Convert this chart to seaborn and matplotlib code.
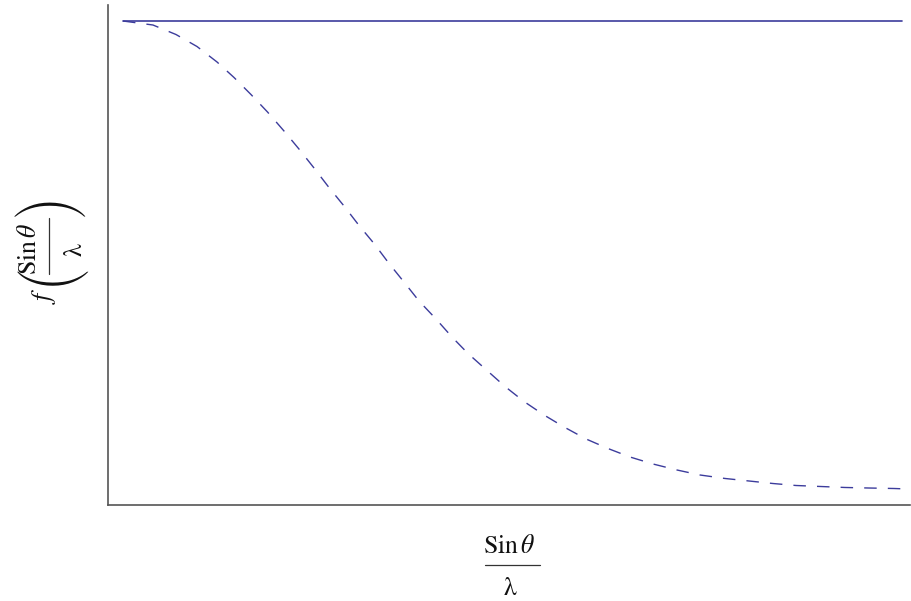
import numpy as np
import pandas as pd
import matplotlib
matplotlib.use("Agg")
import matplotlib.pyplot as plt
from matplotlib.lines import Line2D
import seaborn as sns

# Data (x = sin(theta)/lambda, relative units)
s_values = [0.0, 0.0385, 0.068, 0.095, 0.1207, 0.1425, 0.1643, 0.1855, 0.2067,
            0.2259, 0.2452, 0.2644, 0.2837, 0.3030, 0.3222, 0.3415, 0.3607,
            0.3800, 0.4018, 0.4223, 0.4429, 0.4673, 0.4904, 0.5148, 0.5404,
            0.5661, 0.5944, 0.6226, 0.6508, 0.6804, 0.7112, 0.7407, 0.7728,
            0.8036, 0.8344, 0.8639, 0.8960, 0.9268, 0.9576, 0.9897, 1.0]
f_damped = [1.0, 0.9917, 0.9721, 0.9473, 0.9153, 0.8833, 0.8481, 0.8120, 0.7727,
            0.7355, 0.6963, 0.6560, 0.6178, 0.5775, 0.5403, 0.4990, 0.4607,
            0.4215, 0.3843, 0.3471, 0.3130, 0.2779, 0.2448, 0.2138, 0.1860,
            0.1612, 0.1364, 0.1167, 0.0992, 0.0847, 0.0723, 0.0620, 0.0548,
            0.0496, 0.0444, 0.0403, 0.0382, 0.0362, 0.0351, 0.0341, 0.0335]
s_flat = [0.0, 1.0]
f_flat = [1.0, 1.0]

label_num = r"$\mathrm{Sin}\,\theta$"
label_den = "λ"
label_f = r"$f$"

line_color = "#3c3c9c"
text_color = "#111111"

sns.set_style("white")
plt.rcParams["mathtext.fontset"] = "stix"
plt.rcParams["font.family"] = ["STIXGeneral", "DejaVu Serif"]

W, H = 911, 601
fig = plt.figure(figsize=(W / 100, H / 100), dpi=100)
ax = fig.add_axes([108 / W, (H - 505) / H, (910 - 108) / W, 500 / H])

df_flat = pd.DataFrame({"s": s_flat, "f": f_flat})
df_damp = pd.DataFrame({"s": s_values, "f": f_damped})

sns.lineplot(data=df_flat, x="s", y="f", ax=ax, color=line_color, lw=1.2)
sns.lineplot(data=df_damp, x="s", y="f", ax=ax, color=line_color, lw=1.0,
             dashes=False, linestyle=(0, (9, 8)))

ax.set_xlim(-15 / 779, 787 / 779)
ax.set_ylim(0, 500 / 484)
ax.set_xticks([])
ax.set_yticks([])
ax.set_xlabel("")
ax.set_ylabel("")
for side in ["top", "right"]:
    ax.spines[side].set_visible(False)
for side in ["left", "bottom"]:
    ax.spines[side].set_color("#555555")
    ax.spines[side].set_linewidth(1.2)


def P(x, y):
    """pixel (from top-left) -> figure fraction"""
    return x / W, 1 - y / H


fs = 18.5
# ---- x axis label: stacked fraction ----
fig.text(*P(509, 553), label_num, ha="center", va="baseline", fontsize=fs, color=text_color)
fig.add_artist(Line2D([485 / W, 540 / W], [1 - 565 / H, 1 - 565 / H],
                      transform=fig.transFigure, color="#333333", lw=0.9))
fig.text(*P(510.5, 595), label_den, ha="center", va="baseline", fontsize=fs, color=text_color)

# ---- y axis label: f( fraction ) rotated ----
rot = dict(rotation=90, rotation_mode="anchor", ha="center", va="baseline",
           fontsize=fs, color=text_color)
fig.text(*P(50, 296), label_f, **rot)
fig.text(*P(36, 249), label_num, **rot)
fig.text(*P(82, 250), label_den, **rot)
fig.add_artist(Line2D([49 / W, 49 / W], [1 - 218 / H, 1 - 274 / H],
                      transform=fig.transFigure, color="#333333", lw=0.9))
par = dict(rotation=90, rotation_mode="anchor", ha="center", va="center",
           fontsize=22, color=text_color, family=["STIXSizeThreeSym", "STIXGeneral"])
p_left = fig.text(*P(50, 275), "(", **par)
p_right = fig.text(*P(50, 205), ")", **par)


def fit_glyph(txt, cx, cy, length):
    """scale a rotated delimiter glyph to the given length and centre it"""
    fig.canvas.draw()
    r = fig.canvas.get_renderer()
    bb = txt.get_window_extent(r)
    txt.set_fontsize(txt.get_fontsize() * length / bb.width)
    bb = txt.get_window_extent(r)
    dx = cx - (bb.x0 + bb.x1) / 2
    dy = (H - cy) - (bb.y0 + bb.y1) / 2
    x0, y0 = txt.get_position()
    txt.set_position((x0 + dx / W, y0 + dy / H))


fit_glyph(p_left, 49, 274.5, 72)
fit_glyph(p_right, 49, 205, 72)

fig.savefig("out.png", dpi=100)
